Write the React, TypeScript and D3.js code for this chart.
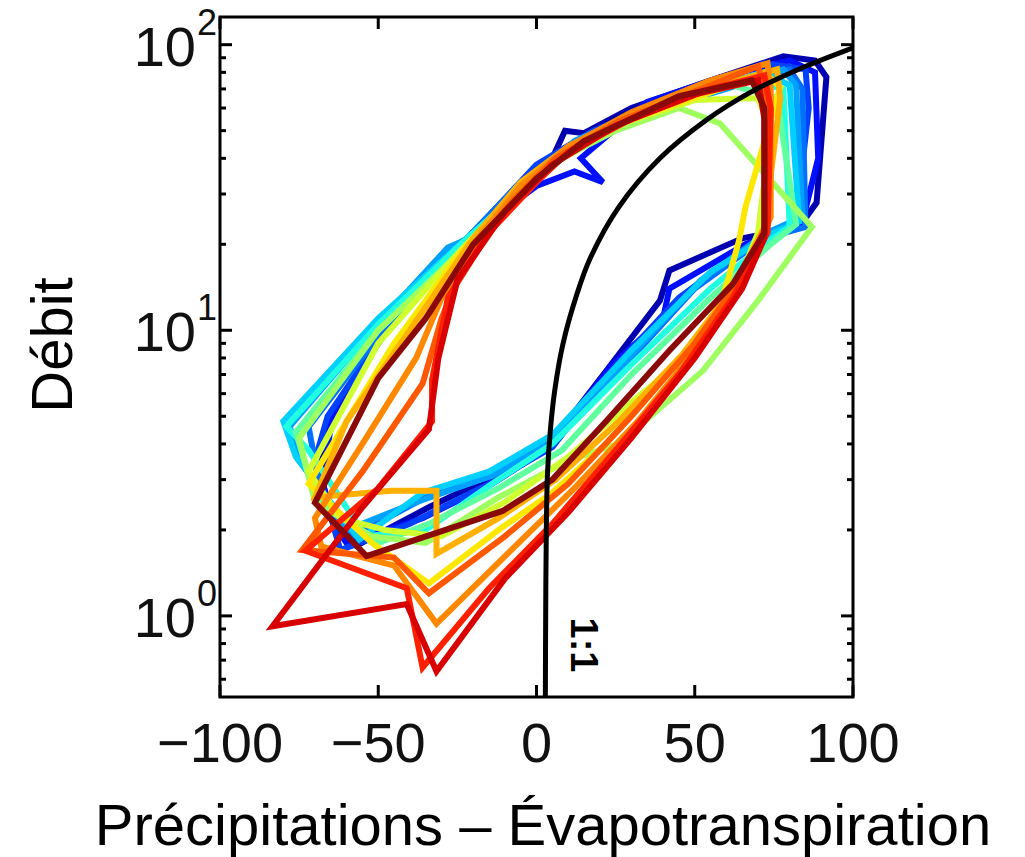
import React from 'react';
import * as d3 from 'd3';

const W = 1025;
const H = 857;
const PLOT = { left: 220, right: 853, top: 17, bottom: 697 };

const xDomain = [-100, 100];
const yDomain = [0.52, 125];
const xTicks = [-100, -50, 0, 50, 100];
const xTickLabels = ['\u2212100', '\u221250', '0', '50', '100'];
const yMajorTicks = [1, 10, 100];
const yTickExponents = ['0', '1', '2'];
const yMinorTicks = [0.6, 0.7, 0.8, 0.9, 2, 3, 4, 5, 6, 7, 8, 9, 20, 30, 40, 50, 60, 70, 80, 90];

const xTitle = 'Précipitations – Évapotranspiration';
const yTitle = 'Débit';
const refLabel = '1:1';

// 1:1 reference line
const refLine: [number, number][] = [
  [2.8, 0.52], [2.9, 1.0], [3.1, 2.0], [3.5, 3.2], [4.4, 4.5], [5.8, 6.2], [8.3, 8.9],
  [12.6, 13.2], [17, 17.9], [26, 27], [39, 40], [54, 54.8], [68, 68.5], [84, 83], [100, 97.5],
];

// jet-like colours, one per annual loop
const loopColors = [
  '#0000b0', '#0010ff', '#0040ff', '#0070ff', '#00a0ff', '#00d0ff', '#20ffe0', '#60ffa0',
  '#a0ff60', '#d0ff30', '#ffe800', '#ffb000', '#ff8800', '#ff5800', '#ff2000', '#d80000', '#8a0a0a',
];

const loop00: [number, number][] = [[-57, 1.76], [-34, 2.4], [-16, 3.0], [5, 4.1], [22, 7.2], [39, 12.7], [42, 16.2], [65, 21], [83, 23], [88.5, 28], [91.6, 77], [88, 88], [78, 91], [55, 75], [30, 60], [15, 49], [9, 50], [5, 40], [-8, 30], [-19, 21], [-30, 18], [-50, 9], [-64.5, 5], [-68.6, 3.2], [-63, 1.94]];
const loop01: [number, number][] = [[-60, 1.8], [-36, 2.2], [-14, 2.9], [4, 3.9], [24, 7.6], [40, 11], [42, 14], [66, 20], [84, 24], [89, 40], [88, 80], [80, 88], [60, 78], [35, 63], [14, 40], [21, 33], [12, 36], [0, 32], [-20, 22], [-45, 11], [-64, 5.2], [-68, 3], [-63, 2.0]];
const loop02: [number, number][] = [[-62, 1.7], [-40, 2.1], [-15, 2.9], [5, 3.9], [25, 7.5], [45, 13], [68, 20], [82, 24], [86, 60], [85, 82], [72, 86], [48, 68], [18, 50], [0, 38], [-20, 22], [-45, 11], [-66, 5], [-70, 3.5]];
const loop03: [number, number][] = [[-58, 1.9], [-35, 2.6], [-10, 3.2], [8, 4.4], [30, 8], [50, 14], [72, 21], [85, 23], [84, 70], [80, 82], [60, 73], [30, 56], [10, 44], [-5, 33], [-22, 21], [-28, 19], [-50, 9.5], [-72, 4.6], [-68, 2.6]];
const loop04: [number, number][] = [[-60, 2.0], [-38, 2.5], [-14, 3.1], [6, 4.2], [30, 8.2], [52, 15], [73, 22], [84, 25], [82, 72], [78, 82], [60, 70], [28, 55], [12, 46], [0, 33], [-19, 21.5], [-28, 19.5], [-52, 10], [-78, 4.6], [-74, 3.4]];
const loop05: [number, number][] = [[-56, 1.85], [-36, 2.7], [-15, 3.2], [5, 4.3], [30, 8.5], [55, 16], [75, 22], [83, 24], [80, 72], [72, 80], [45, 66], [15, 46], [0, 34], [-22, 21], [-50, 11], [-80, 4.8], [-76, 3.6]];
const loop06: [number, number][] = [[-54, 1.9], [-35, 2.0], [-14, 2.9], [5, 4.0], [30, 7.6], [55, 14], [72, 20], [80, 23], [78, 70], [65, 76], [40, 62], [10, 43], [-5, 31], [-25, 19.5], [-50, 10.5], [-79, 4.6], [-72, 3.8]];
const loop07: [number, number][] = [[-50, 1.8], [-34, 2.1], [-12, 2.8], [8, 3.8], [30, 7], [55, 13], [74, 20], [82, 23.5], [76, 65], [62, 72], [38, 60], [10, 42], [-6, 30], [-26, 18], [-50, 10], [-76, 4.4], [-70, 2.6]];
const loop08: [number, number][] = [[-52, 1.9], [-35, 1.8], [-12, 2.6], [10, 3.5], [26, 4.0], [52.5, 7.2], [70, 12.7], [87, 23], [58, 53], [45, 60], [25, 50], [8, 40], [-8, 28], [-28, 17], [-50, 10], [-75, 4.2], [-70, 2.5]];
const loop09: [number, number][] = [[-48, 2.0], [-30, 1.9], [-10, 2.5], [10, 3.6], [30, 5.6], [50, 8.5], [63, 14], [70, 22], [74, 50], [70, 65], [50, 64], [25, 52], [8, 40], [-8, 29], [-26, 18], [-50, 9], [-72, 3.2], [-62, 2.2]];
const loop10: [number, number][] = [[-34, 1.3], [-12, 2.0], [5, 2.7], [22, 4.0], [40, 6.8], [57, 11], [64, 20.6], [66, 27], [77, 71], [72, 80], [55, 68], [30, 55], [10, 42], [-5, 32], [-22, 20], [-45, 9], [-72, 2.9], [-52, 1.8]];
const loop11: [number, number][] = [[-70, 2.6], [-46, 2.74], [-31.6, 2.74], [-31.6, 1.65], [-12, 2.2], [6, 3.0], [26, 4.8], [46, 8.2], [62, 14], [72, 23], [77, 65], [76, 82], [58, 72], [30, 56], [10, 44], [-5, 33], [-20, 21], [-40, 10], [-60, 4.8]];
const loop12: [number, number][] = [[-68, 1.75], [-45, 1.5], [-31.6, 0.94], [-8, 1.7], [12, 2.8], [32, 4.8], [52, 9], [67, 16], [74, 25], [74, 70], [73, 86], [55, 75], [30, 58], [10, 44], [-5, 32], [-20, 20], [-30, 13], [-38, 8], [-55, 4], [-70, 2.2]];
const loop13: [number, number][] = [[-74, 1.7], [-45, 1.6], [-34, 1.2], [-10, 1.9], [10, 2.9], [30, 5], [50, 9], [66, 16], [73, 24], [72, 70], [70, 84], [52, 70], [26, 54], [6, 40], [-8, 28], [-22, 18], [-30, 11], [-36, 6.5], [-55, 3.2]];
const loop14: [number, number][] = [[-73, 1.69], [-41, 1.25], [-36, 0.66], [-15, 1.25], [5, 2.1], [25, 3.8], [45, 7], [62, 13], [73, 22], [74, 60], [72, 78], [55, 70], [30, 55], [10, 42], [0, 33], [-15, 22], [-28, 13], [-33, 6.7], [-33, 4.8], [-50, 2.8]];
const loop15: [number, number][] = [[-83.4, 0.92], [-41, 1.1], [-31.6, 0.64], [-10, 1.35], [10, 2.3], [30, 4.2], [50, 8], [65, 14], [72, 21], [72, 55], [70, 75], [50, 67], [25, 52], [5, 38], [-10, 26], [-25, 15], [-31, 8], [-34, 4.5], [-55, 2.4], [-68.6, 1.52]];
const loop16: [number, number][] = [[-70, 2.49], [-53.7, 1.62], [-10.7, 2.33], [5, 3.0], [22, 4.8], [42, 8.5], [62, 14.5], [72, 22], [72, 60], [68, 75], [45, 66], [15, 46], [0, 34], [-20, 20], [-35, 11], [-50, 6.8]];

const loops = [loop00, loop01, loop02, loop03, loop04, loop05, loop06, loop07, loop08, loop09, loop10, loop11, loop12, loop13, loop14, loop15, loop16];

const FONT = 'Liberation Sans, Arial, Helvetica, sans-serif';

export default function App() {
  const x = d3.scaleLinear().domain(xDomain).range([PLOT.left, PLOT.right]);
  const y = d3.scaleLog().domain(yDomain).range([PLOT.bottom, PLOT.top]);

  const loopLine = d3
    .line<[number, number]>()
    .x((d) => x(d[0]))
    .y((d) => y(d[1]))
    .curve(d3.curveLinearClosed);

  const refPath = d3
    .line<[number, number]>()
    .x((d) => x(d[0]))
    .y((d) => y(d[1]))
    .curve(d3.curveCatmullRom.alpha(0.5));

  const majorLen = 12;
  const minorLen = 6;

  return (
    <div style={{ position: 'absolute', left: 0, top: 0 }}>
      <svg width={W} height={H} style={{ display: 'block', background: '#fff' }}>
        <defs>
          <clipPath id="plotClip">
            <rect x={PLOT.left} y={PLOT.top} width={PLOT.right - PLOT.left} height={PLOT.bottom - PLOT.top} />
          </clipPath>
        </defs>
        <g clipPath="url(#plotClip)">
          {loops.map((lp, i) => (
            <path
              key={i}
              d={loopLine(lp) || ''}
              fill="none"
              stroke={loopColors[i]}
              strokeWidth={6}
              strokeLinejoin="miter"
              strokeMiterlimit={4}
            />
          ))}
          <path d={refPath(refLine) || ''} fill="none" stroke="#000" strokeWidth={5} />
        </g>

        {/* ticks */}
        <g stroke="#000" strokeWidth={3}>
          {xTicks.map((t) => (
            <g key={'xt' + t}>
              <line x1={x(t)} x2={x(t)} y1={PLOT.bottom} y2={PLOT.bottom - majorLen} />
              <line x1={x(t)} x2={x(t)} y1={PLOT.top} y2={PLOT.top + majorLen} />
            </g>
          ))}
          {yMajorTicks.map((t) => (
            <g key={'yt' + t}>
              <line x1={PLOT.left} x2={PLOT.left + majorLen} y1={y(t)} y2={y(t)} />
              <line x1={PLOT.right} x2={PLOT.right - majorLen} y1={y(t)} y2={y(t)} />
            </g>
          ))}
          {yMinorTicks.map((t) => (
            <g key={'ym' + t}>
              <line x1={PLOT.left} x2={PLOT.left + minorLen} y1={y(t)} y2={y(t)} />
              <line x1={PLOT.right} x2={PLOT.right - minorLen} y1={y(t)} y2={y(t)} />
            </g>
          ))}
        </g>

        <rect
          x={PLOT.left}
          y={PLOT.top}
          width={PLOT.right - PLOT.left}
          height={PLOT.bottom - PLOT.top}
          fill="none"
          stroke="#000"
          strokeWidth={3}
        />

        {/* x tick labels */}
        {xTicks.map((t, i) => (
          <text key={'xl' + t} x={x(t)} y={762} textAnchor="middle" fontFamily={FONT} fontSize={56} fill="#111">
            {xTickLabels[i]}
          </text>
        ))}

        {/* y tick labels */}
        {yMajorTicks.map((t, i) => (
          <g key={'yl' + t}>
            <text x={196} y={y(t) + 21} textAnchor="end" fontFamily={FONT} fontSize={56} fill="#111">
              10
            </text>
            <text x={197} y={y(t) - 10} textAnchor="start" fontFamily={FONT} fontSize={36} fill="#111">
              {yTickExponents[i]}
            </text>
          </g>
        ))}

        {/* 1:1 label */}
        <text
          transform={`translate(571, 645) rotate(90)`}
          textAnchor="middle"
          fontFamily={FONT}
          fontWeight="bold"
          fontSize={38}
          fill="#000"
        >
          {refLabel}
        </text>

        {/* axis titles */}
        <text x={543} y={845} textAnchor="middle" fontFamily={FONT} fontSize={58} fill="#000">
          {xTitle}
        </text>
        <text transform="translate(72, 345) rotate(-90)" textAnchor="middle" fontFamily={FONT} fontSize={58} fill="#000">
          {yTitle}
        </text>
      </svg>
    </div>
  );
}
